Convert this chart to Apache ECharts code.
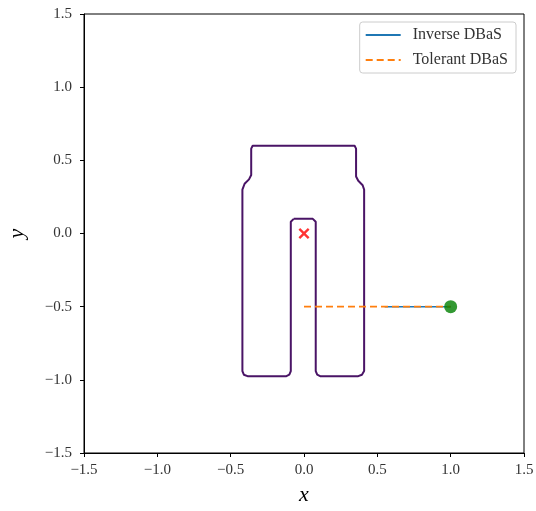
<!DOCTYPE html>
<html><head><meta charset="utf-8">
<script src="https://cdn.jsdelivr.net/npm/echarts@6/dist/echarts.min.js"></script>
<style>html,body{margin:0;padding:0;background:#fff}#c{width:536px;height:511px}</style>
</head><body><div id="c"></div>
<script>
// Boundary of the safe set (x, y) traced clockwise
const boundaryX = [-0.07, 0.06, 0.08, 0.08, 0.09, 0.11, 0.37, 0.395, 0.41, 0.41, 0.40, 0.37, 0.355, 0.355, 0.345, -0.35, -0.36, -0.36, -0.375, -0.405, -0.42, -0.42, -0.41, -0.385, -0.12, -0.10, -0.09, -0.09, -0.07];
const boundaryY = [0.10, 0.10, 0.08, -0.94, -0.965, -0.975, -0.975, -0.965, -0.94, 0.30, 0.33, 0.36, 0.39, 0.58, 0.60, 0.60, 0.58, 0.40, 0.37, 0.34, 0.30, -0.94, -0.965, -0.975, -0.975, -0.965, -0.94, 0.08, 0.10];
const inverseX = [0.55, 1.0];
const inverseY = [-0.5, -0.5];
const tolerantX = [0.0, 1.0];
const tolerantY = [-0.5, -0.5];
const goalPoint = [0.0, 0.0];
const startPoint = [1.0, -0.5];
const seriesNames = ['Inverse DBaS', 'Tolerant DBaS'];

const zip = (a, b) => a.map((v, i) => [v, b[i]]);
const fmt = v => (v < 0 ? '\u2212' : '') + Math.abs(v).toFixed(1);
const serif = 'Liberation Serif';
const chart = echarts.init(document.getElementById('c'));
const axisCommon = {
  type: 'value', min: -1.5, max: 1.5, interval: 0.5,
  axisLine: {show: true, onZero: false, lineStyle: {color: '#000', width: 1}},
  axisTick: {show: true, inside: false, length: 4, lineStyle: {color: '#000'}},
  axisLabel: {formatter: fmt, fontFamily: serif, fontSize: 15, color: '#333'},
  splitLine: {show: false},
  nameLocation: 'middle',
  nameTextStyle: {fontFamily: serif, fontStyle: 'italic', fontSize: 22, color: '#000'}
};
chart.setOption({
  animation: false,
  grid: {left: 84, right: 12, top: 14, bottom: 58, show: true, borderColor: '#000', borderWidth: 1,
         containLabel: false, outerBoundsMode: 'none'},
  xAxis: Object.assign({}, axisCommon, {name: 'x', nameGap: 31,
    axisLabel: Object.assign({}, axisCommon.axisLabel, {margin: 10})}),
  yAxis: Object.assign({}, axisCommon, {name: 'y', nameGap: 56,
    axisLabel: Object.assign({}, axisCommon.axisLabel, {margin: 12})}),
  legend: {
    data: seriesNames, orient: 'vertical', right: 20, top: 22,
    itemWidth: 35, itemHeight: 14, itemGap: 9,
    padding: [5, 8, 5, 5],
    itemStyle: {opacity: 0},
    borderColor: '#ccc', borderWidth: 1, borderRadius: 3, backgroundColor: '#fff',
    textStyle: {fontFamily: serif, fontSize: 16, color: '#333', padding: [0, 0, 0, 7]}
  },
  series: [
    {type: 'line', data: zip(boundaryX, boundaryY), showSymbol: false, symbol: 'none',
     lineStyle: {color: '#4a1466', width: 2}, itemStyle: {color: '#4a1466'}, z: 2},
    {name: seriesNames[0], type: 'line', data: zip(inverseX, inverseY), symbol: 'none',
     lineStyle: {color: '#1f77b4', width: 1.5}, itemStyle: {color: '#1f77b4'}, z: 3},
    {name: seriesNames[1], type: 'line', data: zip(tolerantX, tolerantY), symbol: 'none',
     lineStyle: {color: '#ff7f0e', width: 1.6, type: [7, 4]}, itemStyle: {color: '#ff7f0e'}, z: 4},
    {type: 'scatter', data: [goalPoint], symbol: 'path://M0,1.5L1.5,0L5,3.5L8.5,0L10,1.5L6.5,5L10,8.5L8.5,10L5,6.5L1.5,10L0,8.5L3.5,5Z',
     symbolSize: 11, itemStyle: {color: '#ff0000'}, z: 5},
    {type: 'scatter', data: [startPoint], symbol: 'circle', symbolSize: 13, itemStyle: {color: '#008000'}, z: 6}
  ]
});
</script></body></html>
